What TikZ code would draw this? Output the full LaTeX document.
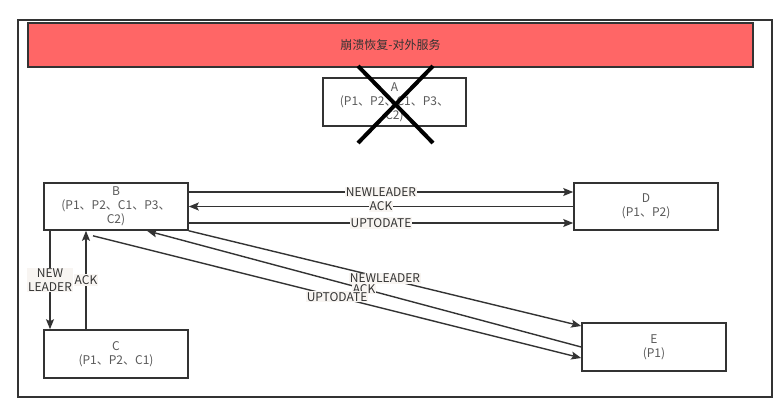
\documentclass[tikz,border=0pt]{standalone}
\usepackage{fontspec}
\setmainfont{Noto Sans CJK SC}
\usetikzlibrary{arrows.meta}
\definecolor{lc}{HTML}{333333}
\definecolor{tc}{HTML}{595959}
\definecolor{lblbg}{HTML}{F8F5F2}
\definecolor{banner}{HTML}{FF6666}
\tikzset{
  box/.style={draw=lc, line width=1.6pt, minimum width=144pt, minimum height=47pt, align=center, text=tc, font=\fontsize{12}{14}\selectfont, inner sep=0pt},
  conn/.style={draw=lc, line width=1.4pt, -{Stealth[length=10pt,width=8pt,inset=2pt]}},
  lbl/.style={fill=lblbg, text=lc, font=\fontsize{12}{14}\selectfont, inner sep=1pt, align=center},
}
\begin{document}
\begin{tikzpicture}[x=1pt,y=-1pt]
\useasboundingbox (0,0) rectangle (782,407);
\fill[white] (0,0) rectangle (782,407);
\node[draw=lc, line width=1.4pt, minimum width=754pt, minimum height=377pt, inner sep=0pt] (frame) at (395,208.5) {};
\node[draw=lc, fill=banner, line width=1.6pt, minimum width=725pt, minimum height=44pt, inner sep=0pt, text=lc, font=\fontsize{12}{14}\selectfont] (banner) at (390.5,45) {崩溃恢复-对外服务};
\node[box, minimum width=143pt, minimum height=48pt] (A) at (394.5,102) {A\\(P1、P2、C1、P3、\\C2)};
\node[box] (B) at (116,206.5) {B\\(P1、P2、C1、P3、\\C2)};
\node[box] (D) at (646,206.5) {D\\(P1、P2)};
\node[box, minimum height=48pt] (C) at (116,354) {C\\(P1、P2、C1)};
\node[box, minimum height=48pt] (E) at (654,347) {E\\(P1)};
% B - D
\draw[conn] ([yshift=14.5pt]B.east) -- node[lbl]{NEWLEADER} ([yshift=14.5pt]D.west);
\draw[conn] (D.west) -- node[lbl]{ACK} (B.east);
\draw[conn] ([yshift=-16.5pt]B.east) -- node[lbl]{UPTODATE} ([yshift=-16.5pt]D.west);
% B - C
\draw[conn] ([xshift=-66pt]B.south) -- node[lbl]{NEW\\LEADER} ([xshift=-66pt]C.north);
\draw[conn] ([xshift=-30pt]C.north) -- node[lbl]{ACK} ([xshift=-30pt]B.south);
% B - E
\coordinate (b3) at ([xshift=-23pt,yshift=-5pt]B.south);
\draw[conn] (B.south east) -- node[lbl]{NEWLEADER} ([yshift=21pt]E.west);
\draw[conn] (E.west) -- node[lbl]{ACK} ([xshift=31pt]B.south);
\draw[conn] (b3) -- node[lbl]{UPTODATE} ([yshift=-11pt]E.west);
% cross
\coordinate (x1) at (358,66);
\coordinate (x2) at (433,143);
\coordinate (x3) at (433,66);
\coordinate (x4) at (358,143);
\draw[black, line width=4pt] (x1) -- (x2);
\draw[black, line width=4pt] (x3) -- (x4);
\end{tikzpicture}
\end{document}
